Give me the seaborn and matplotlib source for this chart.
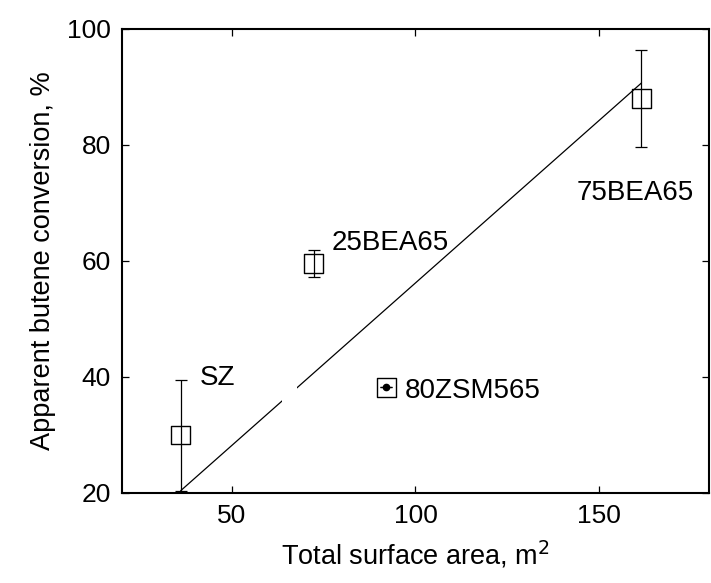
import matplotlib
matplotlib.use("Agg")
import matplotlib.pyplot as plt
from matplotlib.patches import Rectangle
import seaborn as sns
import pandas as pd

# ---- data ----
samples = ["SZ", "25BEA65", "80ZSM565", "75BEA65"]
surface_area = [36.0, 72.3, 92.0, 161.6]
conversion = [30.0, 59.6, 38.2, 88.0]
err_low = [9.6, 2.3, 0.0, 8.3]
err_high = [9.4, 2.3, 0.0, 8.3]
label_x = [41.3, 77.2, 97.0, 144.0]
label_y = [38.6, 61.9, 36.4, 70.5]
fit_x = [36.0, 161.6]
fit_y = [20.4, 90.7]
x_ticks = [50, 100, 150]
y_ticks = [20, 40, 60, 80, 100]

sns.set_style("ticks")
plt.rcParams["font.family"] = ["Liberation Sans", "DejaVu Sans"]
plt.rcParams["text.color"] = "black"
plt.rcParams["axes.labelcolor"] = "black"

fig = plt.figure(figsize=(7.11, 5.83), dpi=100)
ax = fig.add_axes([122 / 711, 90 / 583, 587 / 711, 464 / 583])

df = pd.DataFrame({"x": surface_area, "y": conversion, "name": samples})
fit = pd.DataFrame({"x": fit_x, "y": fit_y})

sns.lineplot(data=fit, x="x", y="y", ax=ax, color="black", lw=0.9, zorder=2)
# small gap in the fit line
ax.add_patch(Rectangle((63.5, 35.0), 4.3, 4.0, facecolor="white",
                       edgecolor="none", zorder=2.5))

ax.errorbar(surface_area, conversion, yerr=[err_low, err_high], fmt="none",
            ecolor="black", elinewidth=0.9, capsize=4.5, capthick=0.9, zorder=3)
sns.scatterplot(data=df, x="x", y="y", ax=ax, marker="s", s=185,
                facecolor="none", edgecolor="black", linewidth=1.0, zorder=4)
# filled dot inside 80ZSM565
ax.plot([surface_area[2]], [conversion[2]], "o", color="black", ms=4.5, zorder=5)

for name, lx, ly in zip(samples, label_x, label_y):
    ax.text(lx, ly, name, fontsize=20, ha="left", va="baseline", color="black")

ax.set_xlim(20, 180)
ax.set_ylim(20, 100)
ax.set_xticks(x_ticks)
ax.set_yticks(y_ticks)
ax.tick_params(direction="in", length=5, width=0.9, top=True, right=True,
               labelsize=19, pad=8, colors="black")
for s in ax.spines.values():
    s.set_linewidth(1.5)
    s.set_color("black")
    s.set_visible(True)

ax.set_xlabel("Total surface area, m$^2$", fontsize=19.5, labelpad=8, color="black")
ax.set_ylabel("Apparent butene conversion, %", fontsize=19.5, labelpad=8, color="black")

fig.savefig("out.png", dpi=100)
